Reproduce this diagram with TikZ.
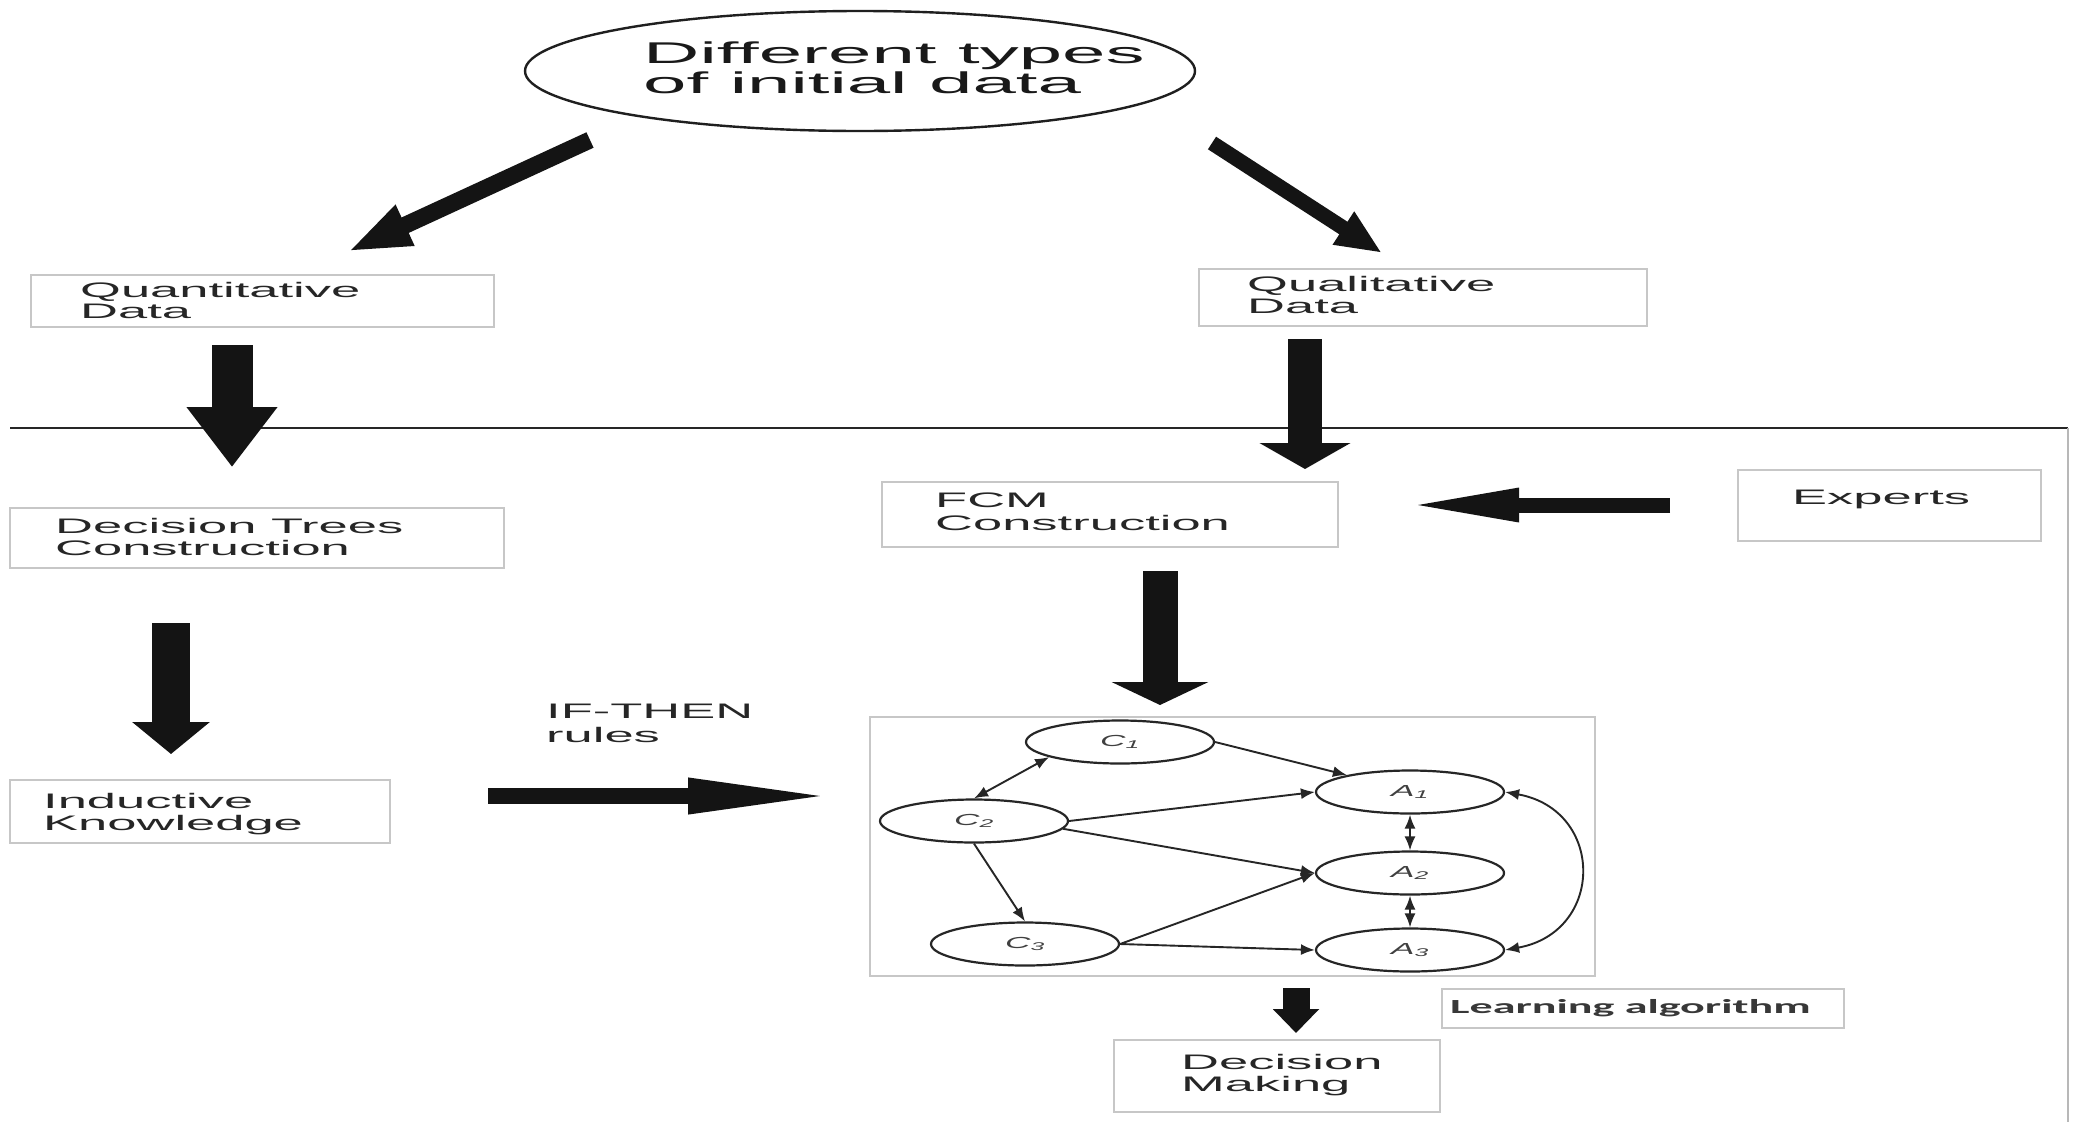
\documentclass[tikz,border=0pt]{standalone}
\usepackage{fontspec}
\setmainfont{Liberation Sans}
\newfontfamily\boxfont[FakeStretch=2.5]{Liberation Sans}
\newfontfamily\titlefont[FakeStretch=2.6]{Liberation Sans}
\newfontfamily\learnfont[FakeStretch=2.3]{Carlito}
\newfontfamily\conceptfont[FakeStretch=2.2]{Liberation Sans}
\usetikzlibrary{arrows.meta,shapes.geometric}

\begin{document}
\begin{tikzpicture}[x=1pt,y=-1pt,
  panel/.style={draw=black!22,line width=2pt,rectangle,inner sep=0pt},
  txt/.style={anchor=base west,inner sep=0pt,text=black!85,
    font=\boxfont\fontsize{21}{22}\selectfont},
  ttl/.style={anchor=base west,inner sep=0pt,text=black!90,
    font=\titlefont\fontsize{30}{30}\selectfont},
  blockarrow/.style n args={3}{draw=black!92,line width=#1,line cap=butt,
    -{Triangle[length=#2,width=#3]}},
  concept/.style={ellipse,draw=black!85,line width=2.2pt,minimum width=188pt,
    minimum height=43pt,inner sep=0pt,
    font=\conceptfont\itshape\fontsize{16}{16}\selectfont,text=black!75},
  link/.style={draw=black!85,line width=1.9pt,-{Latex[length=14pt,width=11pt]}},
  dlink/.style={draw=black!85,line width=1.9pt,
    {Latex[length=14pt,width=11pt]}-{Latex[length=14pt,width=11pt]}}
]
\useasboundingbox (0,0) rectangle (2100,1122);
\fill[white] (0,0) rectangle (2100,1122);

% separator rule and right frame edge
\draw[line width=2.5pt,black!85] (10,428) -- (2068,428);
\draw[line width=2.5pt,black!28] (2068,428) -- (2068,1122);

% title ellipse
\node[ellipse,draw=black!88,line width=2.4pt,minimum width=670pt,minimum height=120pt,inner sep=0pt] (title) at (860,71) {};
\node[ttl] (t1) at (643,63) {Different types};
\node[ttl] (t2) at (643,93) {of initial data};

% boxes
\node[panel,minimum width=463pt,minimum height=52pt] (quant) at (262.5,301) {};
\node[txt] (quant1) at (80,297) {Quantitative};
\node[txt] (quant2) at (80,318) {Data};

\node[panel,minimum width=448pt,minimum height=57pt] (qual) at (1423,297.5) {};
\node[txt] (qual1) at (1247,291) {Qualitative};
\node[txt] (qual2) at (1247,313) {Data};

\node[panel,minimum width=494pt,minimum height=60pt] (dtc) at (257,538) {};
\node[txt] (dtc1) at (55,533) {Decision Trees};
\node[txt] (dtc2) at (55,555) {Construction};

\node[panel,minimum width=380pt,minimum height=63pt] (ind) at (200,811.5) {};
\node[txt] (ind1) at (43,808) {Inductive};
\node[txt] (ind2) at (43,830) {Knowledge};

\node[panel,minimum width=456pt,minimum height=65pt] (fcm) at (1110,514.5) {};
\node[txt] (fcm1) at (935,507) {FCM};
\node[txt] (fcm2) at (935,530) {Construction};

\node[panel,minimum width=303pt,minimum height=71pt] (exp) at (1889.5,505.5) {};
\node[txt] (exp1) at (1792,504) {Experts};

\node[txt] (rule1) at (546,718) {IF-THEN};
\node[txt] (rule2) at (546,742) {rules};

\node[panel,minimum width=725pt,minimum height=259pt] (graph) at (1232.5,846.5) {};

\node[panel,minimum width=402pt,minimum height=39pt] (learn) at (1643,1008.5) {};
\node[anchor=base west,inner sep=0pt,text=black!78,font=\learnfont\bfseries\fontsize{20}{20}\selectfont] (learn1) at (1450,1013) {Learning algorithm};

\node[panel,minimum width=326pt,minimum height=72pt] (dm) at (1277,1076) {};
\node[txt] (dm1) at (1181,1069) {Decision};
\node[txt] (dm2) at (1181,1091) {Making};

% block arrows
\coordinate (q0) at (590,140);   \coordinate (q1) at (347,252);
\coordinate (l0) at (1212,143);  \coordinate (l1) at (1382,253);
\coordinate (d0) at (232,345);   \coordinate (d1) at (232,467);
\coordinate (f0) at (1305,339);  \coordinate (f1) at (1305,469);
\coordinate (g0) at (1160,571);  \coordinate (g1) at (1160,705);
\coordinate (k0) at (171,623);   \coordinate (k1) at (171,754);
\coordinate (e0) at (1670,505);  \coordinate (e1) at (1404,505);
\coordinate (r0) at (488,796);   \coordinate (r1) at (838,796);
\coordinate (m0) at (1296,988);  \coordinate (m1) at (1296,1033);

\draw[blockarrow={17pt}{64pt}{40pt}] (q0) -- (q1);
\draw[blockarrow={15pt}{46pt}{36pt}] (l0) -- (l1);
\draw[blockarrow={41pt}{60pt}{87pt}] (d0) -- (d1);
\draw[blockarrow={34pt}{26pt}{90pt}] (f0) -- (f1);
\draw[blockarrow={35pt}{23pt}{96pt}] (g0) -- (g1);
\draw[blockarrow={38pt}{32pt}{76pt}] (k0) -- (k1);
\draw[blockarrow={15pt}{115pt}{30pt}] (e0) -- (e1);
\draw[blockarrow={16pt}{150pt}{32pt}] (r0) -- (r1);
\draw[blockarrow={27pt}{24pt}{45pt}] (m0) -- (m1);

% fuzzy cognitive map
\node[concept] (C1) at (1120,742) {C\textsubscript{1}};
\node[concept] (C2) at (974,821) {C\textsubscript{2}};
\node[concept] (C3) at (1025,944) {C\textsubscript{3}};
\node[concept] (A1) at (1410,792) {A\textsubscript{1}};
\node[concept] (A2) at (1410,873) {A\textsubscript{2}};
\node[concept] (A3) at (1410,950) {A\textsubscript{3}};

\draw[dlink] (C1.192) -- (C2.north);
\draw[link] (C1.east) -- (A1.165);
\draw[link] (C2.east) -- (A1.west);
\draw[link] (C2.-5) -- (A2.west);
\draw[link] (C2.south) -- (C3.north);
\draw[link] (C3.east) -- (A2.west);
\draw[link] (C3.east) -- (A3.west);
\draw[dlink] (A1.south) -- (A2.north);
\draw[dlink] (A2.south) -- (A3.north);
\draw[dlink] (A1.east) .. controls (1605,810) and (1605,932) .. (A3.east);
\end{tikzpicture}
\end{document}
